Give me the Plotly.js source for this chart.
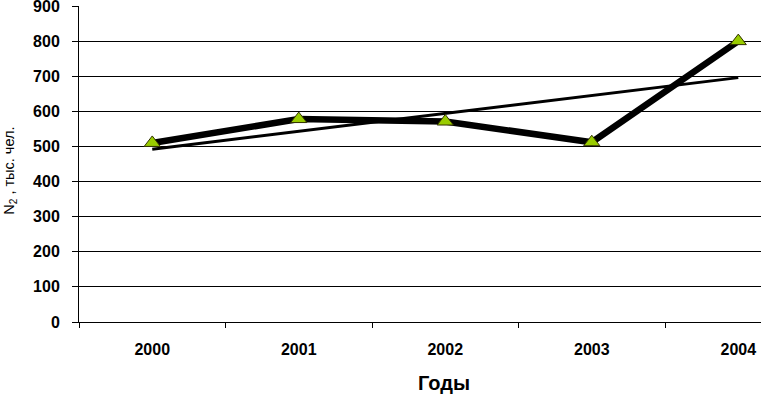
<!DOCTYPE html>
<html><head><meta charset="utf-8">
<script src="https://cdn.plot.ly/plotly-3.0.1.min.js"></script>
<style>body{margin:0;padding:0;background:#fff}#chart{width:761px;height:395px}</style>
</head><body><div id="chart"></div>
<script>
const years = ['2000','2001','2002','2003','2004'];
const values = [510, 578, 571, 512, 800];
const trendYears = ['2000','2004'];
const trendValues = [492, 696];
const yTicks = [0,100,200,300,400,500,600,700,800,900];
const xTitle = 'Годы';
const yTitle = 'N<sub>2</sub> , тыс. чел.';

const font = 'Arial, "Liberation Sans", sans-serif';
const traces = [
  {x: trendYears, y: trendValues, type:'scatter', mode:'lines',
   line:{color:'#000', width:3}, hoverinfo:'skip'},
  {x: years, y: values, type:'scatter', mode:'lines+markers',
   line:{color:'#000', width:6.5},
   marker:{symbol:'triangle-up', size:14, color:'#99cc00', line:{color:'#333300', width:1}}}
];
const L = 79, W = 682, T = 6, H = 316.5;
const layout = {
  width:761, height:395, showlegend:false,
  margin:{l:L, r:0, t:T, b:395-T-H},
  paper_bgcolor:'#fff', plot_bgcolor:'#fff',
  font:{family:font, color:'#000'},
  xaxis:{type:'category', categoryorder:'array', categoryarray:years,
    range:[-0.5, 4.155], tickson:'boundaries', ticks:'outside', ticklen:5, tickcolor:'#000',
    showgrid:false, showline:true, linecolor:'#000', linewidth:1, zeroline:false,
    tickfont:{family:font, size:16, weight:'bold'}, ticklabelstandoff:13},
  yaxis:{range:[0,900], tickvals:yTicks, ticks:'outside', ticklen:6, tickcolor:'#000',
    showgrid:true, gridcolor:'#000', gridwidth:1, showline:true, linecolor:'#000',
    zeroline:false, tickfont:{family:font, size:16, weight:'bold'}, ticklabelstandoff:9,
    ticklabeloverflow:'allow'},
  annotations:[
    {text:xTitle, xref:'paper', yref:'paper', x:(444-L)/W, y:(T+H-384)/H,
     xanchor:'center', yanchor:'middle', showarrow:false,
     font:{family:font, size:20, weight:'bold'}},
    {text:yTitle, xref:'paper', yref:'paper', x:(10-L)/W, y:(T+H-171)/H,
     xanchor:'center', yanchor:'middle', showarrow:false, textangle:-90,
     font:{family:font, size:14.5}}
  ]
};
Plotly.newPlot('chart', traces, layout, {staticPlot:true});
</script></body></html>
